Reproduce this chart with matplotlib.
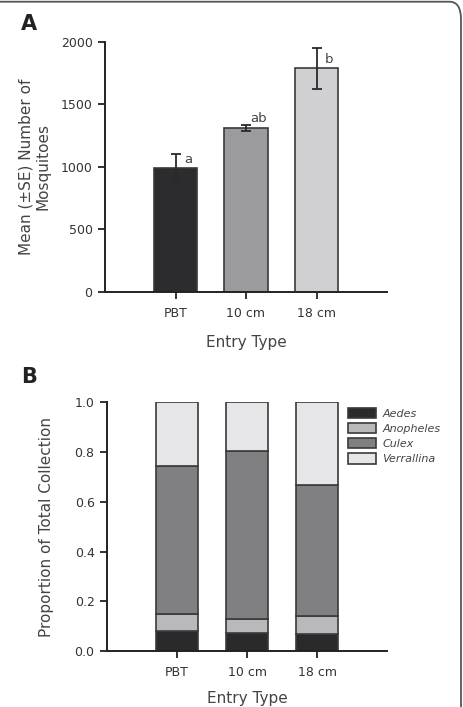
import matplotlib
matplotlib.use("Agg")
import matplotlib.pyplot as plt
from matplotlib.patches import FancyBboxPatch, Patch
import numpy as np

plt.rcParams['font.family'] = ['DejaVu Sans']

categories = ["PBT", "10 cm", "18 cm"]
mean_counts = [987, 1312, 1787]
se_counts = [117, 23, 165]
sig_letters = ["a", "ab", "b"]
bar_colors_a = ["#2c2c2f", "#9b9b9d", "#d0d0d2"]

species = ["Aedes", "Anopheles", "Culex", "Verrallina"]
aedes = [0.080, 0.071, 0.067]
anopheles = [0.070, 0.056, 0.074]
culex = [0.594, 0.676, 0.526]
verrallina = [0.256, 0.197, 0.333]
species_colors = ["#2a2a2d", "#b9b9bb", "#808082", "#e6e6e8"]

W, H = 463, 707
fig = plt.figure(figsize=(W / 100, H / 100), dpi=100)

edge = "#3a3a3a"
tick_col = "#333333"
lab_col = "#444444"

def style_axes(ax):
    for s in ["top", "right"]:
        ax.spines[s].set_visible(False)
    for s in ["left", "bottom"]:
        ax.spines[s].set_linewidth(1.4)
        ax.spines[s].set_color("#222222")
    ax.tick_params(axis="both", direction="out", length=5, width=1.3,
                   color="#222222", labelsize=9, labelcolor=tick_col)
    ax.tick_params(axis="y", pad=4)
    ax.tick_params(axis="x", pad=6)

# Panel A
axA = fig.add_axes([105 / W, 1 - 291.7 / H, (387 - 105) / W, (291.7 - 41.7) / H])
x = np.arange(len(categories))
axA.bar(x, mean_counts, width=0.61, color=bar_colors_a, edgecolor=edge,
        linewidth=1.2, zorder=2)
axA.errorbar(x, mean_counts, yerr=se_counts, fmt="none", ecolor="#2a2a2a",
             elinewidth=1.3, capsize=3.6, capthick=1.3, zorder=3)
for xi, m, t in zip(x, mean_counts, sig_letters):
    axA.text(xi + 0.18, m + 70, t, fontsize=9.5, color=lab_col,
             ha="center", va="center")
axA.set_xlim(-1, 3)
axA.set_ylim(0, 2000)
axA.set_yticks([0, 500, 1000, 1500, 2000])
axA.set_xticks(x)
axA.set_xticklabels(categories)
axA.set_ylabel("Mean (±SE) Number of\nMosquitoes", fontsize=11,
               color=lab_col, linespacing=1.15)
axA.yaxis.set_label_coords((50 - 105) / (387 - 105), 0.5)
axA.set_xlabel("Entry Type", fontsize=11, color=lab_col)
axA.xaxis.set_label_coords(0.5, -(335 - 291.7) / 250)
style_axes(axA)

# Panel B
axB = fig.add_axes([107 / W, 1 - 651 / H, (387 - 107) / W, (651 - 402.3) / H])
layers = [aedes, anopheles, culex, verrallina]
bottom = np.zeros(len(categories))
for vals, col, name in zip(layers, species_colors, species):
    axB.bar(x, vals, bottom=bottom, width=0.61, color=col, edgecolor=edge,
            linewidth=1.2, zorder=2, label=name)
    bottom = bottom + np.array(vals)
axB.set_xlim(-1, 3)
axB.set_ylim(0, 1.0)
axB.set_yticks([0.0, 0.2, 0.4, 0.6, 0.8, 1.0])
axB.set_yticklabels(["0.0", "0.2", "0.4", "0.6", "0.8", "1.0"])
axB.set_xticks(x)
axB.set_xticklabels(categories)
axB.set_ylabel("Proportion of Total Collection", fontsize=11, color=lab_col)
axB.yaxis.set_label_coords((54 - 107) / (387 - 107), 0.5)
axB.set_xlabel("Entry Type", fontsize=11, color=lab_col)
axB.xaxis.set_label_coords(0.5, -(691 - 651) / 248.7)
style_axes(axB)

handles = [Patch(facecolor=c, edgecolor=edge, linewidth=1.2) for c in species_colors]
leg = fig.legend(handles, species, loc="upper left",
                 bbox_to_anchor=(339 / W, 1 - 399 / H), frameon=False,
                 handlelength=2.5, handleheight=1.08, handletextpad=0.6,
                 labelspacing=0.36, fontsize=8, borderpad=0.3)
for t in leg.get_texts():
    t.set_fontstyle("italic")
    t.set_color(lab_col)

fig.text(29 / W, 1 - 24 / H, "A", fontsize=15, fontweight="bold",
         ha="center", va="center", color="#222222")
fig.text(29 / W, 1 - 377 / H, "B", fontsize=15, fontweight="bold",
         ha="center", va="center", color="#222222")

# rounded frame
frame = FancyBboxPatch((-20 / W, -20 / H), (461 + 20) / W, (705.3 + 20) / H,
                       boxstyle="round,pad=0,rounding_size=0.025",
                       transform=fig.transFigure, fill=False,
                       edgecolor="#555555", linewidth=1.3, clip_on=False)
fig.patches.append(frame)

fig.savefig("out.png", dpi=100)
